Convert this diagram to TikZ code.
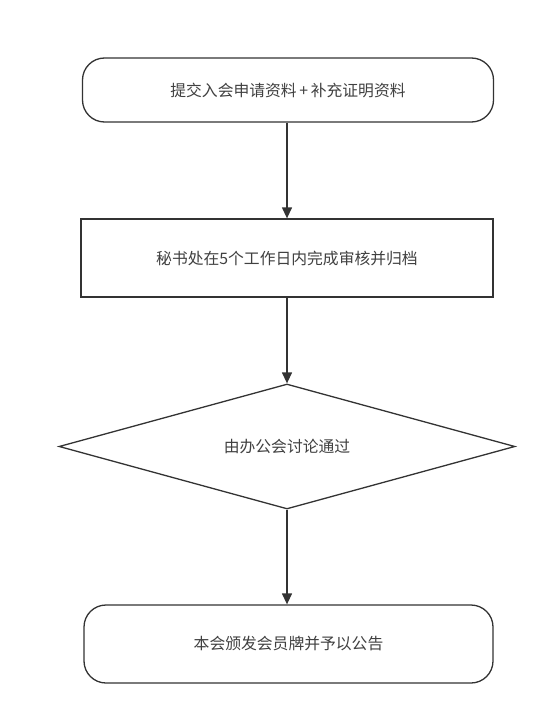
\documentclass[tikz,border=0pt]{standalone}
\usepackage{fontspec}
\setmainfont{Noto Sans CJK SC}
\usetikzlibrary{shapes.geometric,arrows.meta}
\definecolor{linecol}{HTML}{333333}
\definecolor{textcol}{HTML}{404040}
\tikzset{
  base/.style={draw=linecol, line width=1.3pt, fill=white, text=textcol, font=\fontsize{15.8}{18}\selectfont, inner sep=0pt},
  term/.style={base, rounded corners=22pt, minimum width=411pt, minimum height=64pt},
  proc/.style={base, minimum width=412pt, minimum height=78pt},
  dec/.style={base, diamond, shape aspect=3.65, minimum width=456pt, minimum height=125pt},
  flow/.style={draw=linecol, line width=1.3pt, -{Triangle[length=11pt,width=10pt]}}
}
\begin{document}
\begin{tikzpicture}[x=1pt,y=1pt]
\useasboundingbox (0,0) rectangle (554,-722);
\node[term] (a) at (288,-90) {提交入会申请资料\,+\,补充证明资料};
\node[proc] (b) at (287,-258) {秘书处在5个工作日内完成审核并归档};
\node[dec] (c) at (287,-446.5) {由办公会讨论通过};
\node[term, minimum height=78pt, minimum width=409pt] (d) at (288.5,-644) {本会颁发会员牌并予以公告};
\draw[flow] (a.south -| b.north) -- (b.north);
\draw[flow] (b) -- (c);
\draw[flow] (c) -- (d.north -| c.south);
\end{tikzpicture}
\end{document}
